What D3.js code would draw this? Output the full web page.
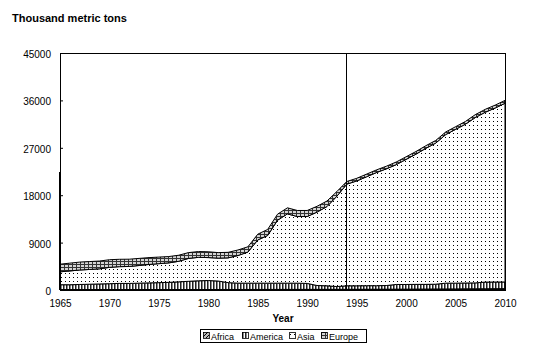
<!DOCTYPE html>
<html>
<head>
<meta charset="utf-8">
<script src="https://cdn.jsdelivr.net/npm/d3@7"></script>
<style>
  body { margin: 0; background: #fff; }
  svg { display: block; font-family: Arial, "Liberation Sans", sans-serif; }
</style>
</head>
<body>
<svg id="chart" width="543" height="345"></svg>
<script>
// Production by region, thousand metric tons
const years = [1965,1966,1967,1968,1969,1970,1971,1972,1973,1974,1975,1976,1977,1978,1979,
  1980,1981,1982,1983,1984,1985,1986,1987,1988,1989,1990,1991,1992,1993,1994,1995,1996,1997,
  1998,1999,2000,2001,2002,2003,2004,2005,2006,2007,2008,2009,2010];

const africa = [60,60,65,65,70,70,75,75,80,80,85,85,90,90,95,95,100,100,100,105,105,110,110,
  115,115,120,120,125,125,130,135,140,145,150,155,160,170,180,190,200,210,220,230,240,250,260];

const america = [940,940,985,1035,1080,1130,1175,1175,1220,1270,1315,1365,1460,1560,1655,1705,
  1600,1300,1200,1195,1195,1190,1190,1185,1185,1130,730,675,525,670,665,680,675,700,895,890,
  900,890,910,1100,1090,1110,1120,1260,1270,1260];

const asia = [2450,2620,2750,2800,2870,3100,3180,3220,3350,3500,3600,3700,3900,4350,4450,4355,
  4350,4700,5250,5900,8200,9050,11950,13150,12650,12700,13950,15050,17150,19300,19900,20680,
  21480,22150,22750,23750,24730,25830,26800,28200,29200,30150,31400,32250,33030,33930];

const europe = [1450,1480,1500,1500,1480,1450,1400,1380,1350,1300,1250,1200,1150,1100,1100,1100,
  1050,1050,1050,1000,1100,1150,1150,1150,1150,1150,1100,1050,900,500,500,500,500,500,500,500,
  500,500,500,500,500,520,550,550,550,550];

const seriesNames = ["Africa", "America", "Asia", "Europe"];
const yTicks = [0, 9000, 18000, 27000, 36000, 45000];
const xTicks = [1965, 1970, 1975, 1980, 1985, 1990, 1995, 2000, 2005, 2010];

// Reference lines crossing the plot: year and the value they reach
const guideYears = [1965, 1994];
const guideTops = [22500, 45000];

const svg = d3.select("#chart");
const plot = { left: 60, right: 505, top: 53, bottom: 290 };

const x = d3.scaleLinear().domain([1965, 2010]).range([plot.left, plot.right]);
const y = d3.scaleLinear().domain([0, 45000]).range([plot.bottom, plot.top]);

// Fill patterns for the four regions
const defs = svg.append("defs");

const pAfrica = defs.append("pattern").attr("id", "p-africa")
  .attr("patternUnits", "userSpaceOnUse").attr("width", 4).attr("height", 4);
pAfrica.append("rect").attr("width", 4).attr("height", 4).attr("fill", "#bbb");
pAfrica.append("path").attr("d", "M0,4L4,0").attr("stroke", "#000").attr("stroke-width", 1);

const pAmerica = defs.append("pattern").attr("id", "p-america")
  .attr("patternUnits", "userSpaceOnUse").attr("width", 3).attr("height", 3);
pAmerica.append("rect").attr("width", 3).attr("height", 3).attr("fill", "#fff");
pAmerica.append("rect").attr("x", 0).attr("width", 1).attr("height", 3).attr("fill", "#222");
pAmerica.append("rect").attr("x", 1).attr("width", 1).attr("height", 3).attr("fill", "#8a8a8a");

const pAsia = defs.append("pattern").attr("id", "p-asia")
  .attr("patternUnits", "userSpaceOnUse").attr("width", 4).attr("height", 4);
pAsia.append("rect").attr("width", 4).attr("height", 4).attr("fill", "#fff");
pAsia.append("rect").attr("x", 1).attr("y", 1).attr("width", 1).attr("height", 1).attr("fill", "#000");

const pEurope = defs.append("pattern").attr("id", "p-europe")
  .attr("patternUnits", "userSpaceOnUse").attr("width", 4).attr("height", 3);
pEurope.append("rect").attr("width", 4).attr("height", 3).attr("fill", "#d4d4d4");
pEurope.append("rect").attr("x", 0).attr("width", 1).attr("height", 3).attr("fill", "#333");
pEurope.append("rect").attr("y", 0).attr("width", 4).attr("height", 1).attr("fill", "#333");

const fills = { Africa: "url(#p-africa)", America: "url(#p-america)", Asia: "url(#p-asia)", Europe: "url(#p-europe)" };

// Stacked data
const table = years.map((yr, i) => ({
  year: yr, Africa: africa[i], America: america[i], Asia: asia[i], Europe: europe[i]
}));
const stacked = d3.stack().keys(seriesNames)(table);

const area = d3.area()
  .x(d => x(d.data.year))
  .y0(d => y(d[0]))
  .y1(d => y(d[1]));

svg.append("g").selectAll("path")
  .data(stacked)
  .join("path")
  .attr("d", area)
  .attr("fill", d => fills[d.key])
  .attr("stroke", "#000")
  .attr("stroke-width", 1)
  .attr("stroke-linejoin", "round");

// Plot frame
svg.append("rect")
  .attr("x", plot.left).attr("y", plot.top)
  .attr("width", plot.right - plot.left).attr("height", plot.bottom - plot.top)
  .attr("fill", "none").attr("stroke", "#000").attr("stroke-width", 1)
  .attr("shape-rendering", "crispEdges");

// Baseline
svg.append("line")
  .attr("x1", plot.left).attr("x2", plot.right)
  .attr("y1", y(0)).attr("y2", y(0))
  .attr("stroke", "#000").attr("stroke-width", 2);

// Vertical reference lines
svg.append("g").selectAll("line")
  .data(guideYears)
  .join("line")
  .attr("x1", d => x(d)).attr("x2", d => x(d))
  .attr("y1", y(0)).attr("y2", (d, i) => y(guideTops[i]))
  .attr("stroke", "#000")
  .attr("stroke-width", (d, i) => i === 0 ? 2.5 : 1)
  .attr("shape-rendering", "crispEdges");

// Y axis
const yAxis = svg.append("g")
  .attr("transform", `translate(${plot.left},0)`)
  .call(d3.axisLeft(y).tickValues(yTicks).tickFormat(d3.format("d"))
    .tickSizeInner(-3).tickSizeOuter(0).tickPadding(9));
yAxis.select(".domain").remove();
yAxis.selectAll("text").attr("font-size", 10).attr("font-family", "Arial, 'Liberation Sans', sans-serif")
  .attr("fill", "#000").attr("dy", "0.45em");
yAxis.selectAll("line").attr("stroke", "#000");

// X axis
const xAxis = svg.append("g")
  .attr("transform", `translate(0,${plot.bottom})`)
  .call(d3.axisBottom(x).tickValues(xTicks).tickFormat(d3.format("d"))
    .tickSize(0).tickPadding(10));
xAxis.select(".domain").remove();
xAxis.selectAll("text").attr("font-size", 10).attr("font-family", "Arial, 'Liberation Sans', sans-serif")
  .attr("fill", "#000");

// Titles
svg.append("text")
  .attr("x", 12).attr("y", 22)
  .attr("font-size", 11).attr("font-weight", "bold")
  .text("Thousand metric tons");

svg.append("text")
  .attr("x", 283).attr("y", 322)
  .attr("text-anchor", "middle")
  .attr("font-size", 10).attr("font-weight", "bold")
  .text("Year");

// Legend
const legend = svg.append("g").attr("transform", "translate(200,329)");
const legendX = [3, 42, 89, 121];
legend.append("rect")
  .attr("x", 0).attr("y", 0).attr("width", 166).attr("height", 13)
  .attr("fill", "#fff").attr("stroke", "#000").attr("shape-rendering", "crispEdges");
const items = legend.selectAll("g.item")
  .data(seriesNames)
  .join("g")
  .attr("class", "item")
  .attr("transform", (d, i) => `translate(${legendX[i]},0)`);
items.append("rect")
  .attr("x", 0).attr("y", 3).attr("width", 6).attr("height", 6)
  .attr("fill", d => fills[d]).attr("stroke", "#000").attr("stroke-width", 0.8)
  .attr("shape-rendering", "crispEdges");
items.append("text")
  .attr("x", 8).attr("y", 11)
  .attr("font-size", 9)
  .text(d => d);
</script>
</body>
</html>
